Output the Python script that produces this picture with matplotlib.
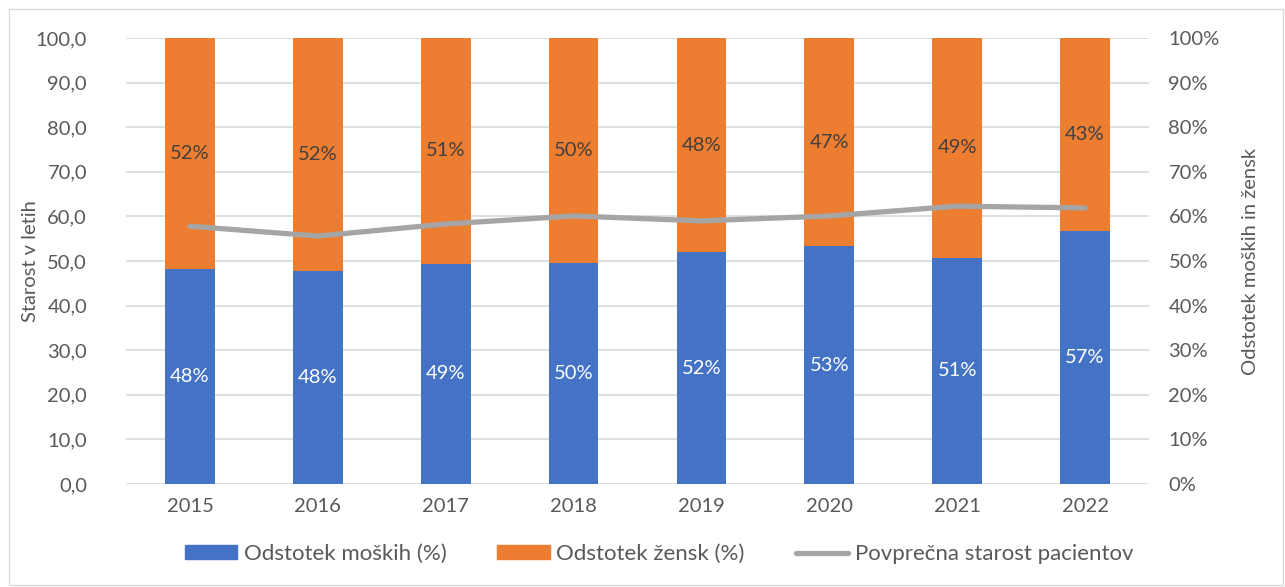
import matplotlib.pyplot as plt
from matplotlib.patches import Rectangle
from matplotlib.lines import Line2D
from matplotlib.ticker import FuncFormatter
import numpy as np

plt.rcParams['font.family'] = ['Lato', 'DejaVu Sans']

years = ['2015', '2016', '2017', '2018', '2019', '2020', '2021', '2022']
moski = [48.2, 47.8, 49.4, 49.6, 52.0, 53.3, 50.7, 56.7]   # % moških
zenske = [100 - m for m in moski]                          # % žensk
starost = [57.8, 55.6, 58.3, 60.1, 59.0, 60.1, 62.3, 61.9]  # povprečna starost

BLUE = '#4472C4'
ORANGE = '#ED7D31'
GRAY = '#A5A5A5'
TXT = '#595959'

fig = plt.figure(figsize=(12.85, 5.87), dpi=100)
ax = fig.add_axes([126 / 1285, 1 - 484 / 587, 1023 / 1285, 446 / 587])
ax2 = ax.twinx()
ax.set_zorder(ax2.get_zorder() + 1)
ax.patch.set_visible(False)

x = np.arange(len(years))
m = np.array(moski) / 100
z = np.array(zenske) / 100
ax2.bar(x, m, width=0.39, color=BLUE, zorder=2)
ax2.bar(x, z, width=0.39, bottom=m, color=ORANGE, zorder=2)
for i in range(len(years)):
    ax2.text(x[i], m[i] / 2, f'{moski[i]:.0f}%', ha='center', va='center',
             color='white', fontsize=14.5)
    ax2.text(x[i], m[i] + z[i] / 2, f'{zenske[i]:.0f}%', ha='center', va='center',
             color='#404040', fontsize=14.5)

ax.plot(x, starost, color=GRAY, lw=3.8, solid_capstyle='round')

ax.set_xlim(-0.5, len(years) - 0.5)
ax.set_ylim(0, 100)
ax2.set_ylim(0, 1)
ax.set_yticks(np.arange(0, 101, 10))
ax2.set_yticks(np.arange(0, 1.01, 0.1))
ax.yaxis.set_major_formatter(FuncFormatter(lambda v, p: f'{v:.1f}'.replace('.', ',')))
ax2.yaxis.set_major_formatter(FuncFormatter(lambda v, p: f'{v * 100:.0f}%'))
ax.set_xticks(x)
ax.set_xticklabels(years)

ax2.grid(axis='y', color='#D9D9D9', lw=1.2)
ax2.set_axisbelow(True)
for a in (ax, ax2):
    for s in a.spines.values():
        s.set_visible(False)
    a.tick_params(length=0, labelsize=14.5, colors=TXT)
ax.tick_params(axis='y', pad=28)
ax2.tick_params(axis='y', pad=14)
ax.tick_params(axis='x', pad=10)

ax.set_ylabel('Starost v letih', fontsize=14.5, color=TXT)
ax.yaxis.set_label_coords(-0.085, 0.5)
ax2.set_ylabel('Odstotek moških in žensk', fontsize=14.5, color=TXT)
ax2.yaxis.set_label_coords(1.091, 0.5)

handles = [Rectangle((0, 0), 1, 1, color=BLUE),
           Rectangle((0, 0), 1, 1, color=ORANGE),
           Line2D([0], [0], color=GRAY, lw=3.8, solid_capstyle='round')]
labels = ['Odstotek moških (%)', 'Odstotek žensk (%)', 'Povprečna starost pacientov']
fig.legend(handles, labels, loc='center', bbox_to_anchor=(659 / 1285, 1 - 554 / 587),
           ncol=3, frameon=False, fontsize=16, labelcolor=TXT,
           handlelength=2.35, handleheight=0.6, handletextpad=0.3, columnspacing=2.3)

fig.patches.append(Rectangle((9 / 1285, 2 / 587), 1274 / 1285, 576 / 587,
                             transform=fig.transFigure, fill=False,
                             edgecolor='#D9D9D9', lw=1))

fig.savefig('out.png', dpi=100)
